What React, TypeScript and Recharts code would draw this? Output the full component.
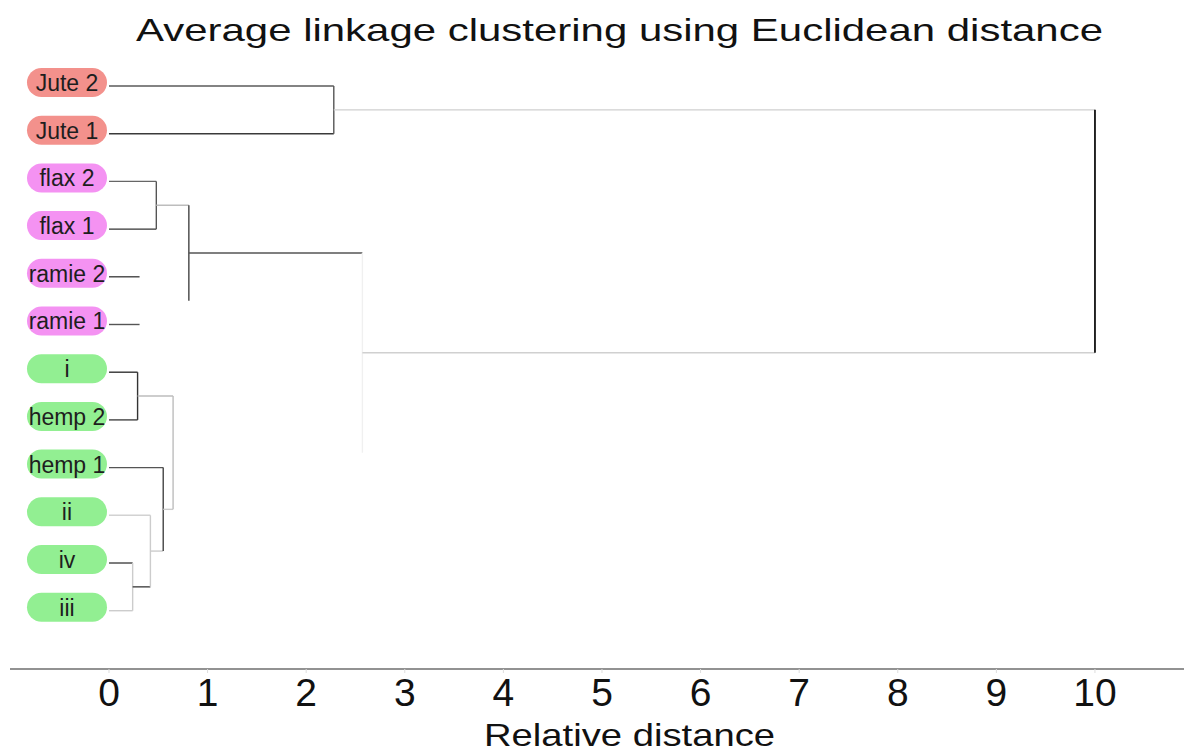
import React from 'react';
import { ScatterChart, Scatter, XAxis, YAxis, ReferenceLine, Customized } from 'recharts';

// ---- data ----
const leafNames = ['Jute 2', 'Jute 1', 'flax 2', 'flax 1', 'ramie 2', 'ramie 1', 'i', 'hemp 2', 'hemp 1', 'ii', 'iv', 'iii'];
const leafGroup = ['jute', 'jute', 'bast', 'bast', 'bast', 'bast', 'hemp', 'hemp', 'hemp', 'hemp', 'hemp', 'hemp'];
// merges (scipy style: leaves 0..11, clusters 12+k)
const mergeLeft = [0, 2, 4, 13, 6, 10, 9, 8, 16, 15, 12];
const mergeRight = [1, 3, 5, 14, 7, 11, 17, 18, 19, 20, 21];
const mergeHeight = [2.28, 0.48, 0.31, 0.81, 0.29, 0.24, 0.42, 0.55, 0.65, 2.57, 10.0];
const xTicks = [0, 1, 2, 3, 4, 5, 6, 7, 8, 9, 10];
const titleText = 'Average linkage clustering using Euclidean distance';
const xLabelText = 'Relative distance';

// ---- styles ----
const FONT = '"Liberation Sans", Arial, Helvetica, sans-serif';
const groupFill: Record<string, string> = { jute: '#f3918c', bast: '#f492f2', hemp: '#92ef92' };
// colour of the horizontal link from node -> its parent ('none' = not drawn in the figure)
const linkTone: Record<number, string> = {
  0: '#5a5a5a', 1: '#3a3a3a', 2: '#666666', 3: '#333333', 4: '#444444', 5: '#555555',
  6: '#333333', 7: '#444444', 8: '#555555', 9: '#d2d2d2', 10: '#444444', 11: '#cccccc',
  12: '#cfcfcf', 13: '#bdbdbd', 14: 'none', 15: '#555555', 16: '#bdbdbd', 17: '#444444',
  18: '#cccccc', 19: '#cccccc', 20: 'none', 21: '#d0d0d0',
};
// colour of the vertical join of each cluster
const joinTone: Record<number, string> = {
  12: '#555555', 13: '#555555', 14: 'none', 15: '#444444', 16: '#333333', 17: '#cccccc',
  18: '#cccccc', 19: '#444444', 20: '#bdbdbd', 21: '#f0f0f0', 22: '#111111',
};

// ---- derived tree geometry (data space) ----
const nodeX: number[] = leafNames.map(() => 0);
const nodeY: number[] = leafNames.map((_, i) => i);
mergeHeight.forEach((h, k) => {
  nodeX.push(h);
  nodeY.push((nodeY[mergeLeft[k]] + nodeY[mergeRight[k]]) / 2);
});

type Seg = { key: string; pts: [{ x: number; y: number }, { x: number; y: number }]; color: string; w: number };
const segments: Seg[] = [];
mergeHeight.forEach((h, k) => {
  const id = leafNames.length + k;
  [mergeLeft[k], mergeRight[k]].forEach((c) => {
    segments.push({
      key: `h${c}`,
      pts: [{ x: nodeX[c], y: nodeY[c] }, { x: h, y: nodeY[c] }],
      color: linkTone[c],
      w: 1.4,
    });
  });
  segments.push({
    key: `v${id}`,
    pts: [{ x: h, y: nodeY[mergeLeft[k]] }, { x: h, y: nodeY[mergeRight[k]] }],
    color: joinTone[id],
    w: id === 22 ? 1.8 : 1.4,
  });
});
const visibleSegments = segments.filter((s) => s.color !== 'none');

const leafData = leafNames.map((name, i) => ({ x: 0, y: i, name, group: leafGroup[i] }));

const LeafPill = (props: any) => {
  const { cx, cy, payload } = props;
  const w = 80;
  const h = 29;
  const right = cx - 2;
  const mid = right - w / 2;
  return (
    <g>
      <rect x={right - w} y={cy - 18} width={w} height={h} rx={h / 2} ry={h / 2} fill={groupFill[payload.group]} />
      <text x={mid} y={cy + 5} textAnchor="middle" fontFamily={FONT} fontSize={23} fill="#1e1e1e">
        {payload.name}
      </text>
    </g>
  );
};

const Titles = () => (
  <g>
    <text x={619.5} y={41} textAnchor="middle" fontFamily={FONT} fontSize={32} fill="#111"
      textLength={967} lengthAdjust="spacingAndGlyphs">
      {titleText}
    </text>
    <text x={629.5} y={746} textAnchor="middle" fontFamily={FONT} fontSize={32} fill="#111"
      textLength={291} lengthAdjust="spacingAndGlyphs">
      {xLabelText}
    </text>
  </g>
);

export default function App() {
  return (
    <div style={{ position: 'absolute', left: 0, top: 0, width: 1184, height: 753, background: '#fff' }}>
      <ScatterChart width={1184} height={753} margin={{ top: 14, right: 0, bottom: 54, left: 10 }}>
        <XAxis
          type="number"
          dataKey="x"
          domain={[-1.004, 10.903]}
          allowDataOverflow
          ticks={xTicks}
          interval={0}
          height={30}
          axisLine={{ stroke: '#6e6e6e', strokeWidth: 1.5 }}
          tickLine={{ stroke: '#dddddd' }}
          tickSize={4}
          tickMargin={5}
          tick={{ fontSize: 39, fill: '#111', fontFamily: FONT }}
        />
        <YAxis type="number" dataKey="y" domain={[-1.509, 12.222]} reversed hide allowDataOverflow width={0} />
        {visibleSegments.map((s) => (
          <ReferenceLine key={s.key} segment={s.pts} stroke={s.color} strokeWidth={s.w} ifOverflow="visible" />
        ))}
        <Scatter data={leafData} shape={LeafPill} isAnimationActive={false} />
        <Customized component={Titles} />
      </ScatterChart>
    </div>
  );
}
